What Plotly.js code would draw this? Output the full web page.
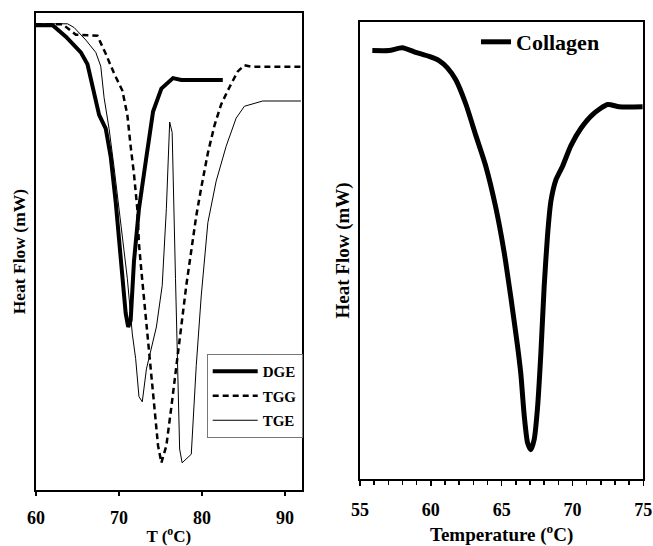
<!DOCTYPE html>
<html>
<head>
<meta charset="utf-8">
<script src="https://cdn.plot.ly/plotly-3.0.1.min.js"></script>
<style>html,body{margin:0;padding:0;background:#fff;}#chart{width:653px;height:546px;}</style>
</head>
<body>
<div id="chart"></div>
<script>
// Left panel: DSC curves (relative heat flow, arbitrary units)
const dgeT = [60, 62, 63.6, 65.4, 66.2, 66.8, 67.6, 68.4, 69.0, 69.6, 70.2, 70.8, 71.1, 71.4, 71.8, 72.4, 73.3, 74.1, 75.1, 76.5, 77.5, 82.5];
const dgeH = [97.5, 97.5, 95.1, 91.8, 89.3, 84.5, 78.7, 75.8, 69.9, 60.4, 48.0, 37.1, 34.2, 35.6, 48.0, 59.0, 69.9, 79.4, 84.2, 86.4, 86.0, 86.0];

const tggT = [60, 63.2, 64.8, 67.4, 68.4, 69.4, 70.4, 71.0, 71.4, 71.8, 72.2, 72.4, 72.7, 73.1, 73.5, 73.9, 74.3, 74.7, 75.1, 75.7, 76.3, 76.9, 77.5, 78.1, 78.7, 79.3, 79.9, 80.7, 81.5, 82.3, 83.3, 84.3, 85.1, 85.9, 91.9];
const tggH = [97.7, 97.7, 95.5, 95.3, 91.5, 87.4, 83.8, 78.7, 72.1, 66.3, 59.0, 51.7, 45.8, 38.5, 29.8, 22.5, 15.2, 9.3, 5.7, 9.3, 17.4, 26.1, 34.9, 42.9, 50.2, 57.5, 63.4, 70.7, 76.5, 80.9, 84.5, 87.8, 89.1, 88.8, 88.8];

const tgeT = [60, 63.8, 64.6, 66.0, 67.2, 67.8, 68.2, 68.8, 69.4, 70.0, 70.5, 71.0, 71.6, 72.0, 72.4, 72.8, 73.3, 74.0, 74.5, 75.2, 75.7, 76.1, 76.4, 76.8, 77.1, 77.3, 77.6, 78.7, 79.3, 79.9, 80.7, 81.7, 82.9, 84.1, 85.1, 87.3, 91.9];
const tgeH = [97.8, 97.8, 97.0, 94.4, 91.8, 88.9, 82.3, 75.8, 67.7, 59.0, 51.7, 44.4, 32.7, 27.6, 19.6, 18.5, 25.4, 30.5, 34.2, 42.9, 59.0, 77.2, 75.0, 44.4, 22.5, 8.6, 5.7, 7.5, 26.1, 40.7, 56.1, 64.8, 72.1, 78.0, 80.5, 81.6, 81.6];

// Right panel: collagen
const colT = [55.87, 57.05, 57.99, 58.93, 59.88, 60.58, 61.17, 61.76, 62.47, 63.17, 63.88, 64.59, 65.18, 65.65, 66.12, 66.35, 66.59, 66.83, 67.06, 67.30, 67.53, 67.77, 68.00, 68.24, 68.48, 68.83, 69.30, 69.89, 70.60, 71.42, 72.48, 73.30, 74.95];
const colH = [93.7, 93.7, 94.3, 93.3, 92.4, 91.5, 89.9, 87.3, 82.0, 75.2, 68.4, 59.3, 49.5, 39.7, 29.1, 23.1, 14.0, 7.9, 6.4, 8.7, 15.5, 27.6, 42.0, 53.3, 60.8, 65.4, 68.4, 72.9, 76.7, 79.7, 81.9, 81.4, 81.4];

const leftTicks = [60, 70, 80, 90];
const rightTicks = [55, 60, 65, 70, 75];

const F = 'Liberation Serif, Times New Roman, serif';
const bold = (s) => ({family: F, size: s, color: '#000', weight: 'bold'});
const btxt = (arr) => arr.map(v => '<b>' + v + '</b>');

const traces = [
  {x: dgeT, y: dgeH, name: '<b>DGE</b>', legendgroup: 'a', mode: 'lines', line: {color: '#000', width: 4}, xaxis: 'x', yaxis: 'y', legend: 'legend'},
  {x: tggT, y: tggH, name: '<b>TGG</b>', legendgroup: 'b', mode: 'lines', line: {color: '#000', width: 2.5, dash: '6px,4px'}, xaxis: 'x', yaxis: 'y', legend: 'legend'},
  {x: tgeT, y: tgeH, name: '<b>TGE</b>', legendgroup: 'c', mode: 'lines', line: {color: '#000', width: 1}, xaxis: 'x', yaxis: 'y', legend: 'legend'},
  {x: colT, y: colH, name: '<b>Collagen</b>', mode: 'lines', line: {color: '#000', width: 5, shape: 'spline', smoothing: 0.6}, xaxis: 'x2', yaxis: 'y2', legend: 'legend2'}
];

const layout = {
  width: 653, height: 546,
  margin: {l: 0, r: 0, t: 0, b: 0},
  paper_bgcolor: '#fff', plot_bgcolor: '#fff',
  font: bold(16),
  xaxis: {
    domain: [36/653, 301.7/653], anchor: 'y', range: [60, 92],
    tickvals: leftTicks, ticktext: btxt(leftTicks), ticks: 'outside', ticklen: 4, tickwidth: 1.5, tickcolor: '#000',
    ticklabelstandoff: 6,
    showline: true, mirror: true, linewidth: 2, linecolor: '#000',
    showgrid: false, zeroline: false, tickfont: bold(18),
    title: {text: '<b>T (<sup>o</sup>C)</b>', font: bold(17), standoff: 4}
  },
  yaxis: {
    domain: [(546-490)/546, (546-13.3)/546], anchor: 'x', range: [0, 100],
    showticklabels: false, ticks: '', showline: true, mirror: true, linewidth: 2, linecolor: '#000',
    showgrid: false, zeroline: false,
    title: {text: '<b>Heat Flow (mW)</b>', font: bold(17.5), standoff: 4}
  },
  xaxis2: {
    domain: [360/653, 643.3/653], anchor: 'y2', range: [55, 75],
    tickvals: rightTicks, ticktext: btxt(rightTicks), ticks: 'outside', ticklen: 5, tickwidth: 1.5, tickcolor: '#000',
    ticklabelstandoff: 8,
    minor: {dtick: 1, ticks: 'outside', ticklen: 4, tickwidth: 1.5, tickcolor: '#000'},
    showline: true, mirror: true, linewidth: 2, linecolor: '#000',
    showgrid: false, zeroline: false, tickfont: bold(18),
    title: {text: '<b>Temperature (<sup>o</sup>C)</b>', font: bold(19), standoff: 12}
  },
  yaxis2: {
    domain: [(546-479)/546, (546-21.7)/546], anchor: 'x2', range: [0, 100],
    showticklabels: false, ticks: '', showline: true, mirror: true, linewidth: 2, linecolor: '#000',
    showgrid: false, zeroline: false,
    title: {text: '<b>Heat Flow (mW)</b>', font: bold(19), standoff: 3}
  },
  legend: {
    x: 206.7/653, y: (546-354)/546, xanchor: 'left', yanchor: 'top',
    bordercolor: '#777', borderwidth: 1, bgcolor: '#fff',
    font: bold(15), itemwidth: 45, tracegroupgap: 2
  },
  legend2: {
    x: 476/653, y: (546-21)/546, xanchor: 'left', yanchor: 'top',
    borderwidth: 0, bgcolor: 'rgba(0,0,0,0)',
    font: bold(22), itemwidth: 30
  },
  showlegend: true
};

Plotly.newPlot('chart', traces, layout, {displayModeBar: false, staticPlot: true});
</script>
</body>
</html>
